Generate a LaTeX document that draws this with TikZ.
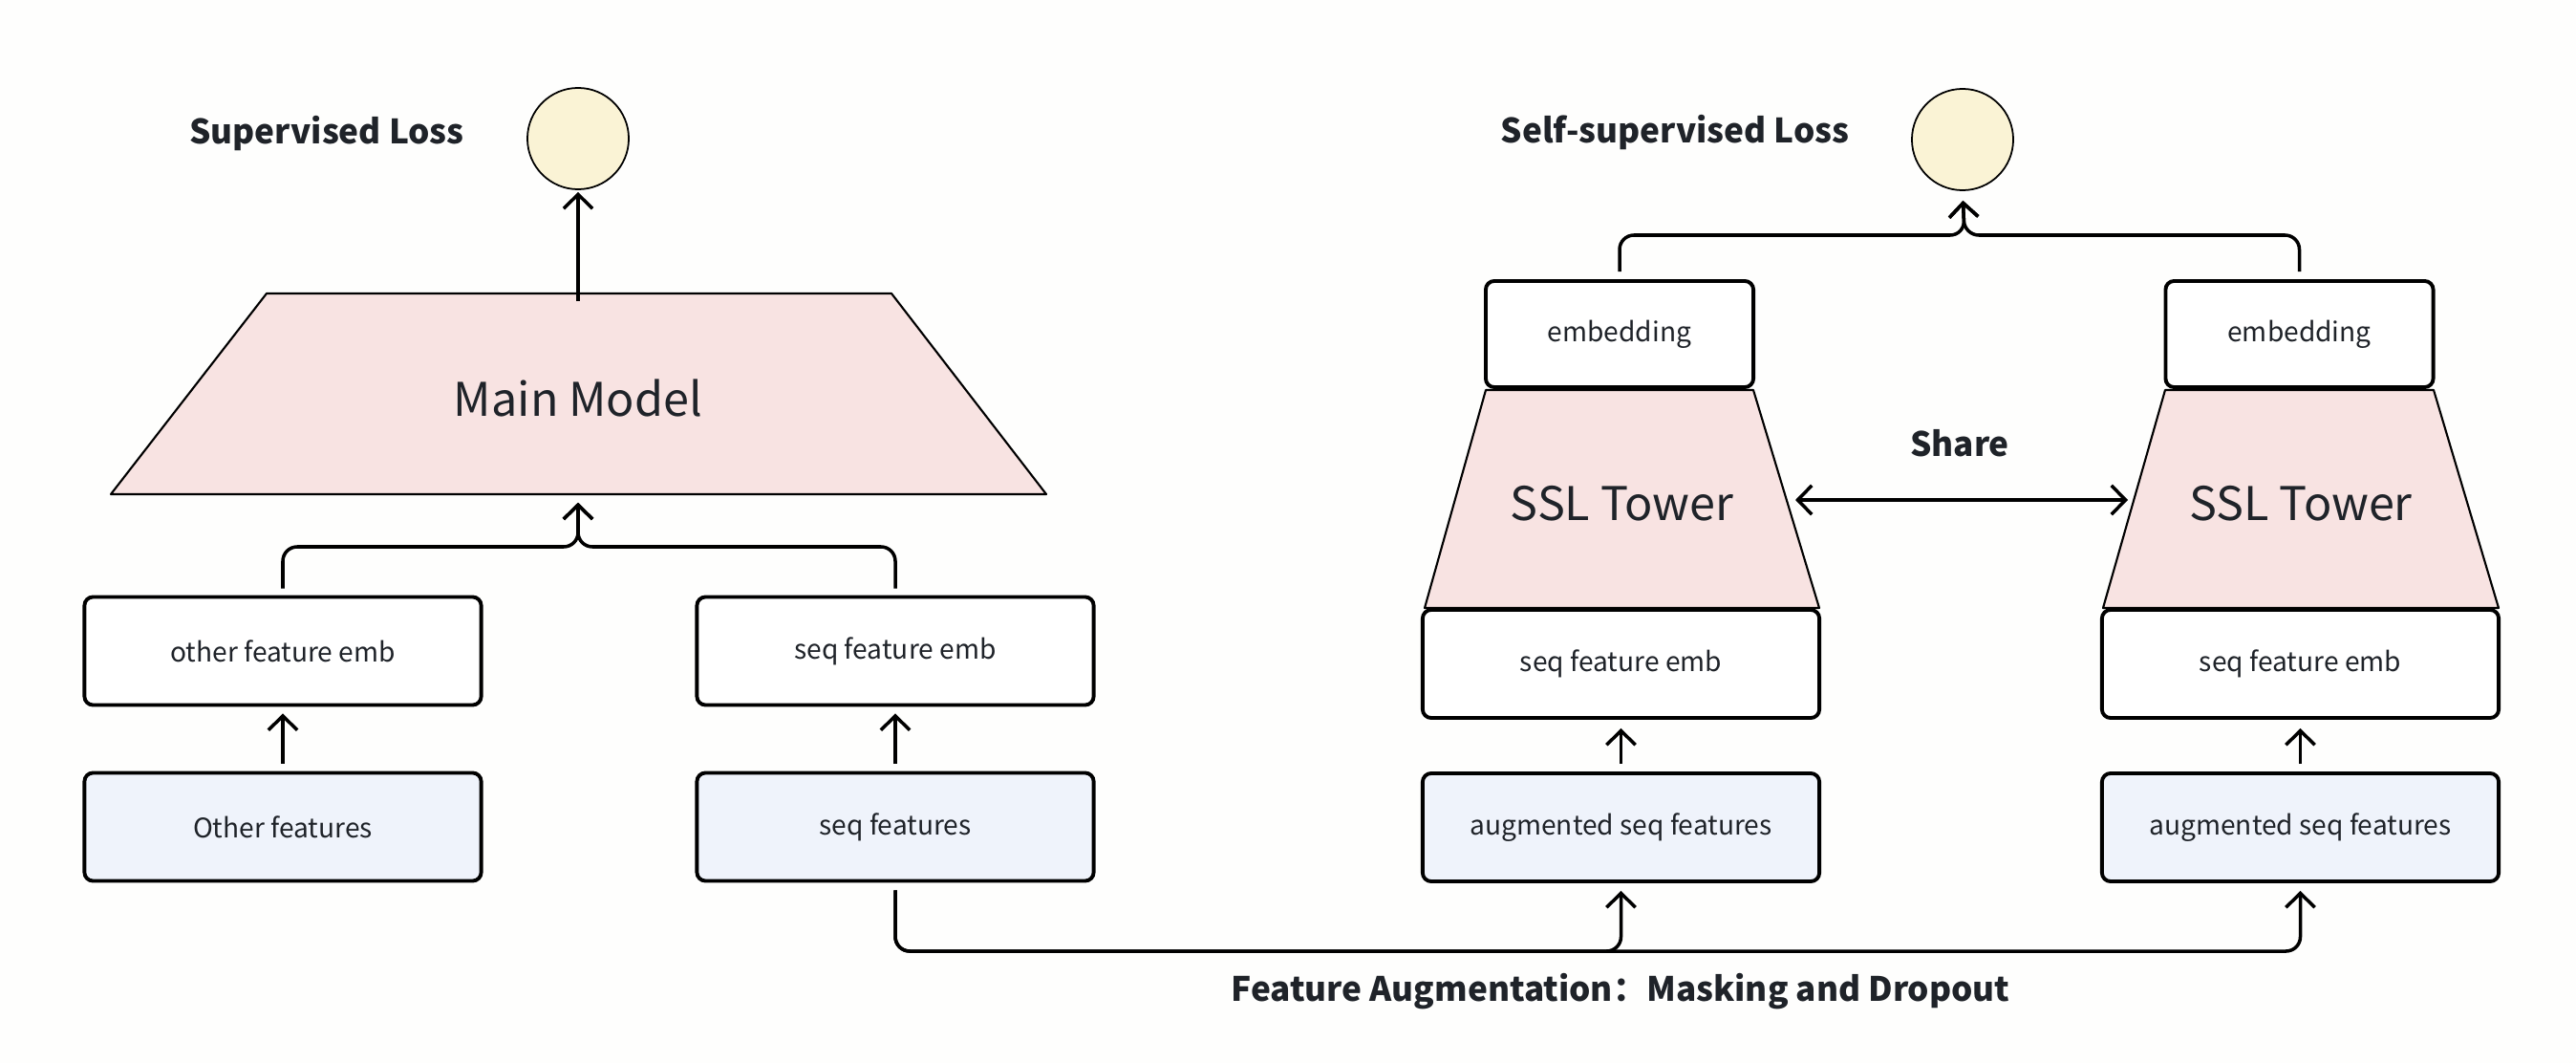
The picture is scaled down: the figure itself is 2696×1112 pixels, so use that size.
\documentclass[tikz,border=0pt]{standalone}
\usepackage{fontspec}
\setmainfont{Noto Sans CJK SC}
\usetikzlibrary{arrows.meta}
\definecolor{txt}{HTML}{1F2329}
\definecolor{yel}{HTML}{FAF3D5}
\definecolor{pinkf}{HTML}{F8E3E2}
\definecolor{bluef}{HTML}{EFF3FB}
\definecolor{bgc}{HTML}{FEFEFD}
\tikzset{
 box/.style={draw=black, line width=1.1pt, rounded corners=0.09cm, minimum width=4.15cm, minimum height=1.13cm, inner sep=0pt, font=\fontsize{8}{10}\selectfont, text=txt, fill=white},
 featbox/.style={box, fill=bluef},
 embbox/.style={box, minimum width=2.8cm, minimum height=1.11cm},
 conn/.style={draw=black, line width=1pt, rounded corners=0.15cm},
 tip/.tip={Straight Barb[length=4.2pt,width=8.6pt]},
 arr/.style={conn, -tip},
 loss/.style={circle, draw=black, line width=0.5pt, fill=yel, minimum size=1.06cm, inner sep=0pt},
 tw/.style={fill=pinkf, draw=black, line width=0.6pt, line join=round},
 boldlbl/.style={font=\fontsize{10}{12}\selectfont\bfseries, text=txt},
 biglbl/.style={font=\fontsize{13.8}{16}\selectfont, text=txt, inner sep=0pt}
}
\begin{document}
\begin{tikzpicture}[x=0.01cm,y=-0.01cm]
\fill[bgc] (0,0) rectangle (2696,1112);
\useasboundingbox (0,0) rectangle (2696,1112);

% ---------- left: supervised ----------
\node[loss] (supL) at (605,145) {};
\node[boldlbl] (supT) at (342,140) {Supervised Loss};
\draw[tw] (279,307) -- (933,307) -- (1095,517) -- (116,517) -- cycle;
\node[biglbl, minimum height=2.10cm, yshift=-0.04cm] (main) at (605,412) {Main Model};

\node[box] (oemb) at (296,681) {other feature emb};
\node[box] (semb) at (937,681) {seq feature emb};
\node[featbox] (ofeat) at (296,865) {Other features};
\node[featbox] (sfeat) at (937,865) {seq features};

\draw[arr, shorten <=0.08cm, shorten >=0.07cm] (ofeat.north) -- (oemb.south);
\draw[arr, shorten <=0.08cm, shorten >=0.07cm] (sfeat.north) -- (semb.south);

\coordinate (mJ) at (605,572);
\draw[arr, shorten <=0.07cm, shorten >=0.04cm] (oemb.north) |- (mJ) -- (main.south);
\draw[arr, shorten <=0.07cm, shorten >=0.04cm] (semb.north) |- (mJ) -- (main.south);
\draw[arr, shorten <=-0.05cm, shorten >=0.02cm] (main.north) -- (supL.south);

% ---------- right: self-supervised ----------
\node[loss] (sslL) at (2054,146) {};
\node[boldlbl] (sslT) at (1753,139) {Self-supervised Loss};

\draw[tw] (1555,408) -- (1835,408) -- (1904,636) -- (1491,636) -- cycle;
\draw[tw] (2266,408) -- (2547,408) -- (2615,636) -- (2201,636) -- cycle;
\node[biglbl, minimum height=2.28cm, yshift=-0.05cm] (tw1) at (1697.5,522) {SSL Tower};
\node[biglbl, minimum height=2.28cm, yshift=-0.05cm] (tw2) at (2408,522) {SSL Tower};

\node[embbox] (emb1) at (1695,349.5) {embedding};
\node[embbox] (emb2) at (2406.5,349.5) {embedding};

\node[box] (semb1) at (1696.5,694.5) {seq feature emb};
\node[box] (semb2) at (2407.5,694.5) {seq feature emb};
\node[featbox] (aug1) at (1696.5,865.5) {augmented seq features};
\node[featbox] (aug2) at (2407.5,865.5) {augmented seq features};

\draw[arr, shorten <=0.08cm, shorten >=0.09cm] (aug1.north) -- (semb1.south);
\draw[arr, shorten <=0.08cm, shorten >=0.09cm] (aug2.north) -- (semb2.south);

\node[boldlbl] (share) at (2051,464) {Share};
\coordinate (sh1) at (1879,523);
\coordinate (sh2) at (2227,523);
\draw[conn, tip-tip] (sh1) -- (sh2);

\coordinate (tJ) at (2056,246);
\draw[arr, shorten <=0.08cm, shorten >=0.10cm] (emb1.north) |- (tJ) -- (sslL.south);
\draw[arr, shorten <=0.08cm, shorten >=0.10cm] (emb2.north) |- (tJ) -- (sslL.south);

\coordinate (b1) at (1696.5,995);
\coordinate (b2) at (2407.5,995);
\draw[arr, shorten <=0.08cm, shorten >=0.08cm] (sfeat.south) |- (b1) -- (aug1.south);
\draw[arr, shorten <=0.08cm, shorten >=0.08cm] (sfeat.south) |- (b2) -- (aug2.south);

\node[boldlbl] (augT) at (1696,1037) {Feature Augmentation：Masking and Dropout};
\end{tikzpicture}
\end{document}
